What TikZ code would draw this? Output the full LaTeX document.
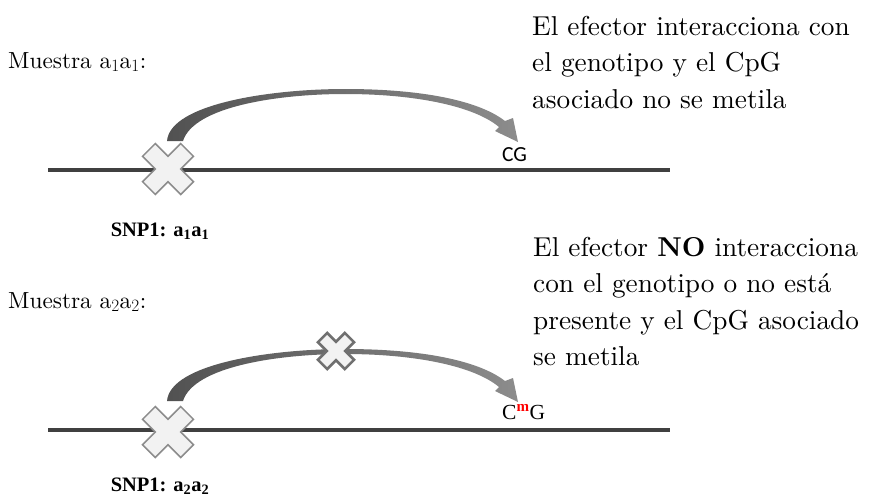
\documentclass[tikz,border=0pt]{standalone}
\usepackage{fontspec}
\setmainfont{lmroman10-regular.otf}[BoldFont=lmroman10-bold.otf]
\newfontfamily\timesf{Liberation Serif}
\newfontfamily\calib{Carlito}
\definecolor{dnagray}{HTML}{404040}
\definecolor{xfill}{HTML}{F2F2F2}
\definecolor{xedge}{HTML}{8C8C8C}
\definecolor{xedgedark}{HTML}{707070}
\tikzset{
  dnaline/.style={draw=dnagray, line width=4pt},
  crossbig/.style={draw=xedge, fill=xfill, line width=1.5pt, line join=miter},
  crosssmall/.style={draw=xedgedark, fill=xfill, line width=2.6pt, line join=miter},
  sidetext/.style={anchor=north west, inner sep=0pt, align=left, font=\fontsize{27.3}{36.5}\selectfont},
  samplelabel/.style={anchor=base west, inner sep=0pt, font=\fontsize{23.3}{26}\selectfont},
  snplabel/.style={anchor=base, inner sep=0pt, font=\timesf\bfseries\fontsize{20.5}{24}\selectfont},
  pics/bigcross/.style={code={
    \draw[crossbig, rotate=45] (27,9) -- (9,9) -- (9,27) -- (-9,27) -- (-9,9) -- (-27,9) -- (-27,-9) -- (-9,-9) -- (-9,-27) -- (9,-27) -- (9,-9) -- (27,-9) -- cycle;
  }},
  pics/smallcross/.style={code={
    \draw[crosssmall, rotate=45] (19,6.5) -- (6.5,6.5) -- (6.5,19) -- (-6.5,19) -- (-6.5,6.5) -- (-19,6.5) -- (-19,-6.5) -- (-6.5,-6.5) -- (-6.5,-19) -- (6.5,-19) -- (6.5,-6.5) -- (19,-6.5) -- cycle;
  }},
  pics/effarrow/.style={code={
    \shade[left color=black!68, right color=black!45]
      (167,141) .. controls (170,104) and (270,89) .. (345,89)
      .. controls (420,89) and (478,100) .. (505,121)
      -- (513,118) -- (518,142) -- (495,131) -- (499,127)
      .. controls (474,106) and (415,94) .. (345,94)
      .. controls (280,94) and (194,106) .. (183,141) -- cycle;
  }}
}
\begin{document}
\begin{tikzpicture}[x=1pt, y=-1pt]
\useasboundingbox (0,0) rectangle (874,499);

% ---------- top sample ----------
\node[samplelabel] (m1) at (8,68) {Muestra a$_1$a$_1$:};
\coordinate (l1s) at (48,170);
\coordinate (l1e) at (670,170);
\draw[dnaline] (l1s) -- (l1e);
\pic at (0,0) {effarrow};
\pic at (168,169) {bigcross};
\node[anchor=base west, inner sep=0pt, font=\calib\fontsize{21.5}{25}\selectfont] (cg) at (502,161) {CG};
\node[snplabel] (snp1) at (160,236) {SNP1: a\textsubscript{1}a\textsubscript{1}};
\node[sidetext] (t1) at (532,16) {El efector interacciona con\\el genotipo y el CpG\\asociado no se metila};

% ---------- bottom sample ----------
\node[samplelabel] (m2) at (8,308) {Muestra a$_2$a$_2$:};
\coordinate (l2s) at (48,430);
\coordinate (l2e) at (670,430);
\draw[dnaline] (l2s) -- (l2e);
\pic at (0,260) {effarrow};
\pic at (336,351) {smallcross};
\pic at (168,432) {bigcross};
\node[anchor=base west, inner sep=0pt, font=\timesf\fontsize{21.5}{25}\selectfont] (cmg) at (502,419) {C\textsuperscript{\textcolor{red}{\bfseries m}}G};
\node[snplabel] (snp2) at (160,491) {SNP1: a\textsubscript{2}a\textsubscript{2}};
\node[sidetext] (t2) at (533,237) {El efector \textbf{NO} interacciona\\con el genotipo o no está\\presente y el CpG asociado\\se metila};
\end{tikzpicture}
\end{document}
